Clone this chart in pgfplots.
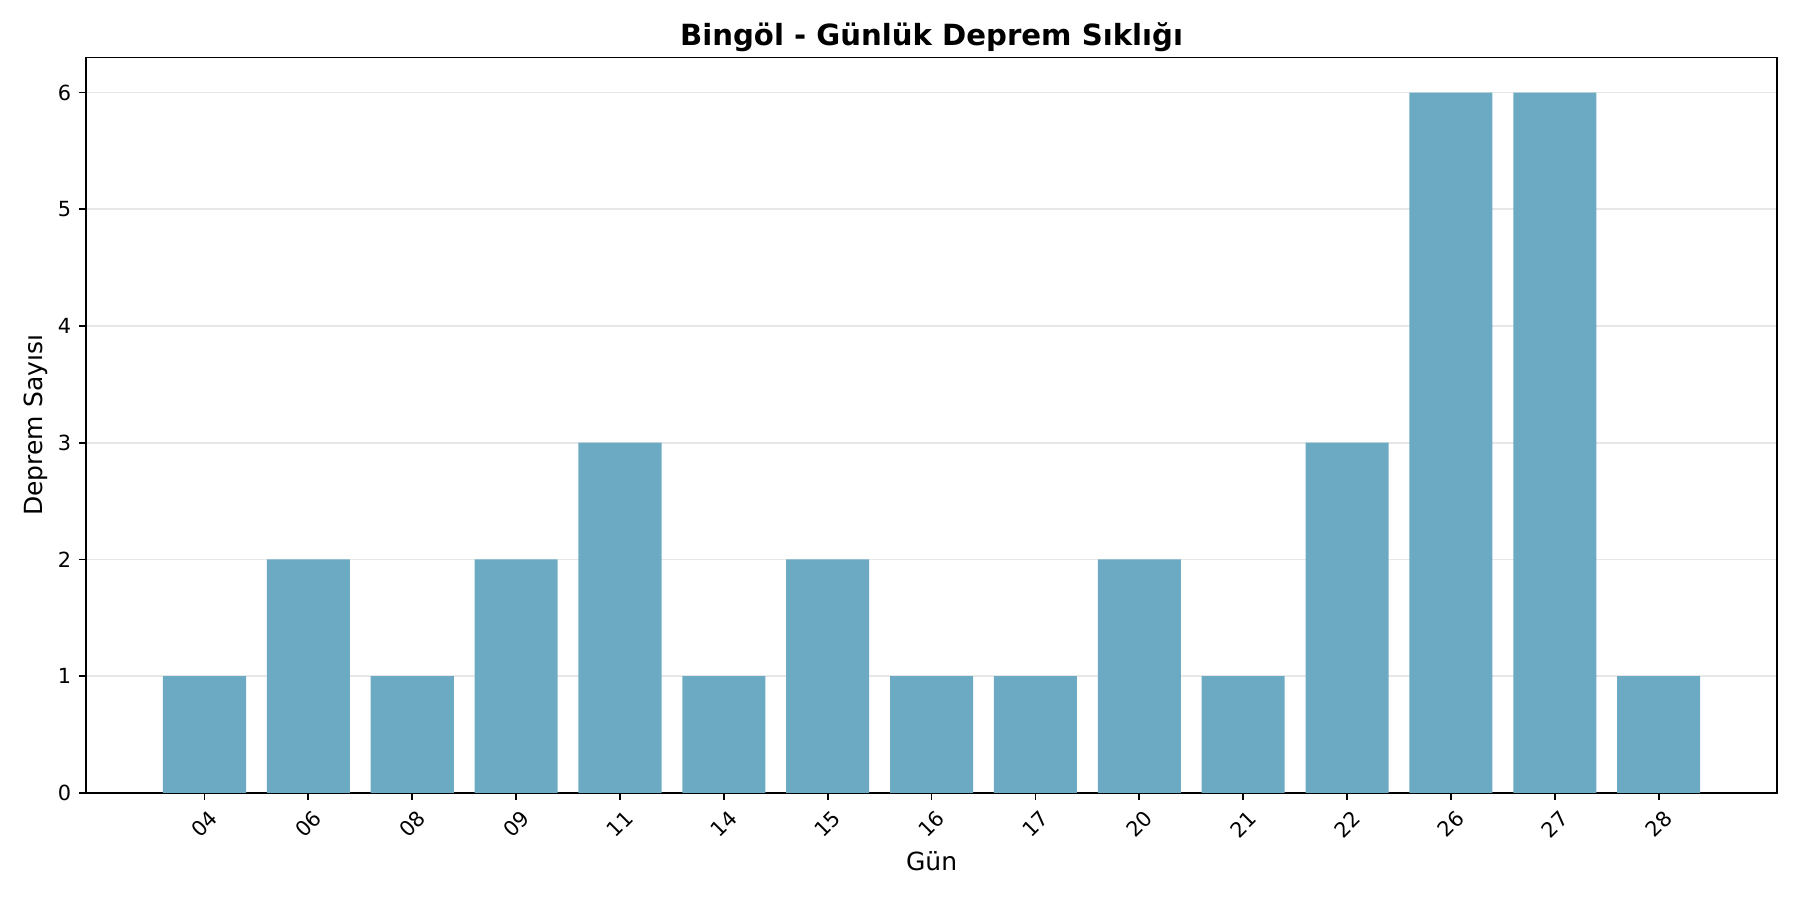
\documentclass[border=0pt]{standalone}
\usepackage{fontspec}
\setmainfont{DejaVu Sans}
\usepackage{pgfplots}
\pgfplotsset{compat=1.18}
\definecolor{barc}{RGB}{108,170,196}
\definecolor{gridc}{RGB}{231,231,231}
\begin{document}
\begin{tikzpicture}
\useasboundingbox (0,0) rectangle (864pt,432pt);
\begin{axis}[
  at={(41.3pt,51.4pt)}, anchor=south west,
  scale only axis, width=811.7pt, height=353pt,
  xmin=-1.14, xmax=15.14, ymin=0, ymax=6.3,
  xtick={0,...,14},
  xticklabels={04,06,08,09,11,14,15,16,17,20,21,22,26,27,28},
  ytick={0,...,6},
  tick align=outside, tick pos=left,
  major tick length=3.5pt,
  every tick/.style={black, line width=0.8pt},
  axis line style={line width=0.8pt},
  ymajorgrids, grid style={gridc, line width=0.8pt},
  /pgf/number format/assume math mode=true,
  ticklabel style={font=\fontsize{10}{12}\selectfont},
  xticklabel shift=11.5pt,
  xticklabel style={rotate=45, anchor=center, inner sep=0pt},
  yticklabel style={inner sep=0pt, xshift=-3.5pt},
  every axis title shift=0pt,
  title={Bingöl - Günlük Deprem Sıklığı},
  title style={font=\bfseries\fontsize{14}{17}\selectfont, at={(axis description cs:0.5,1)}, anchor=base, yshift=6pt},
  xlabel={Gün},
  xlabel style={font=\fontsize{12}{14}\selectfont, at={(axis description cs:0.5,0)}, anchor=north, inner sep=0pt, yshift=-28pt},
  ylabel={Deprem Sayısı},
  ylabel style={font=\fontsize{12}{14}\selectfont, at={(axis description cs:0,0.5)}, anchor=center, rotate=0, yshift=24pt},
]
\addplot[ybar, bar width=0.8, fill=barc, draw=none] coordinates {
 (0,1) (1,2) (2,1) (3,2) (4,3) (5,1) (6,2) (7,1) (8,1) (9,2) (10,1) (11,3) (12,6) (13,6) (14,1)
};
\end{axis}
\end{tikzpicture}
\end{document}
